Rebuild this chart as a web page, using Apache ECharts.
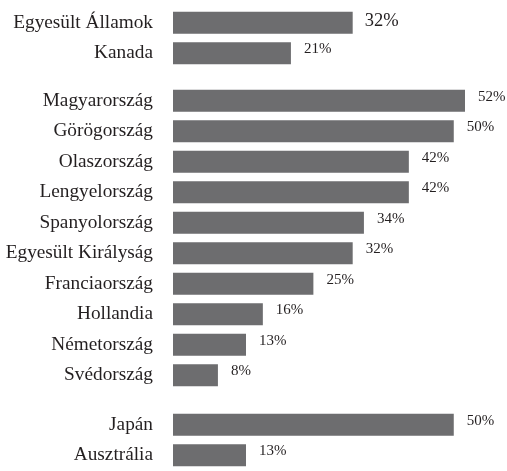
<!DOCTYPE html>
<html><head><meta charset="utf-8">
<script src="https://cdn.jsdelivr.net/npm/echarts@6/dist/echarts.min.js"></script>
<style>html,body{margin:0;padding:0;background:#fff}#c{width:507px;height:471px}</style>
</head><body><div id="c"></div>
<script>
const catsAmerica = ['Egyesült Államok', 'Kanada'];
const valsAmerica = [32, 21];
const catsEurope = ['Magyarország', 'Görögország', 'Olaszország', 'Lengyelország', 'Spanyolország', 'Egyesült Királyság', 'Franciaország', 'Hollandia', 'Németország', 'Svédország'];
const valsEurope = [52, 50, 42, 42, 34, 32, 25, 16, 13, 8];
const catsPacific = ['Japán', 'Ausztrália'];
const valsPacific = [50, 13];

const FONT = '"Liberation Serif", "Times New Roman", serif';
const TXT = '#231f20';
const BAR = '#6d6d6f';
const groups = [
  {cats: catsAmerica, vals: valsAmerica, top: 7.5, h: 61},
  {cats: catsEurope, vals: valsEurope, top: 85.5, h: 305},
  {cats: catsPacific, vals: valsPacific, top: 409.5, h: 61}
];
const grid = [], xAxis = [], yAxis = [], series = [];
groups.forEach((g, i) => {
  grid.push({left: 173, width: 292, top: g.top, height: g.h});
  xAxis.push({type: 'value', gridIndex: i, min: 0, max: 52, show: false});
  yAxis.push({type: 'category', gridIndex: i, data: g.cats, inverse: true,
    axisLine: {show: false}, axisTick: {show: false}, splitLine: {show: false},
    axisLabel: {margin: 20, fontFamily: FONT, fontSize: 19.3, color: TXT}});
  series.push({type: 'bar', xAxisIndex: i, yAxisIndex: i,
    data: g.vals.map((v, j) => (i === 0 && j === 0) ? {value: v, label: {fontSize: 18.5, distance: 12, offset: [0, -2]}} : v),
    barWidth: 22, itemStyle: {color: BAR}, silent: true,
    label: {show: true, position: 'right', distance: 13, offset: [0, -4],
      formatter: '{c}%', fontFamily: FONT, fontSize: 15, color: TXT}});
});
const chart = echarts.init(document.getElementById('c'), null, {renderer: 'canvas'});
chart.setOption({animation: false, backgroundColor: '#fff', grid, xAxis, yAxis, series});
</script></body></html>
